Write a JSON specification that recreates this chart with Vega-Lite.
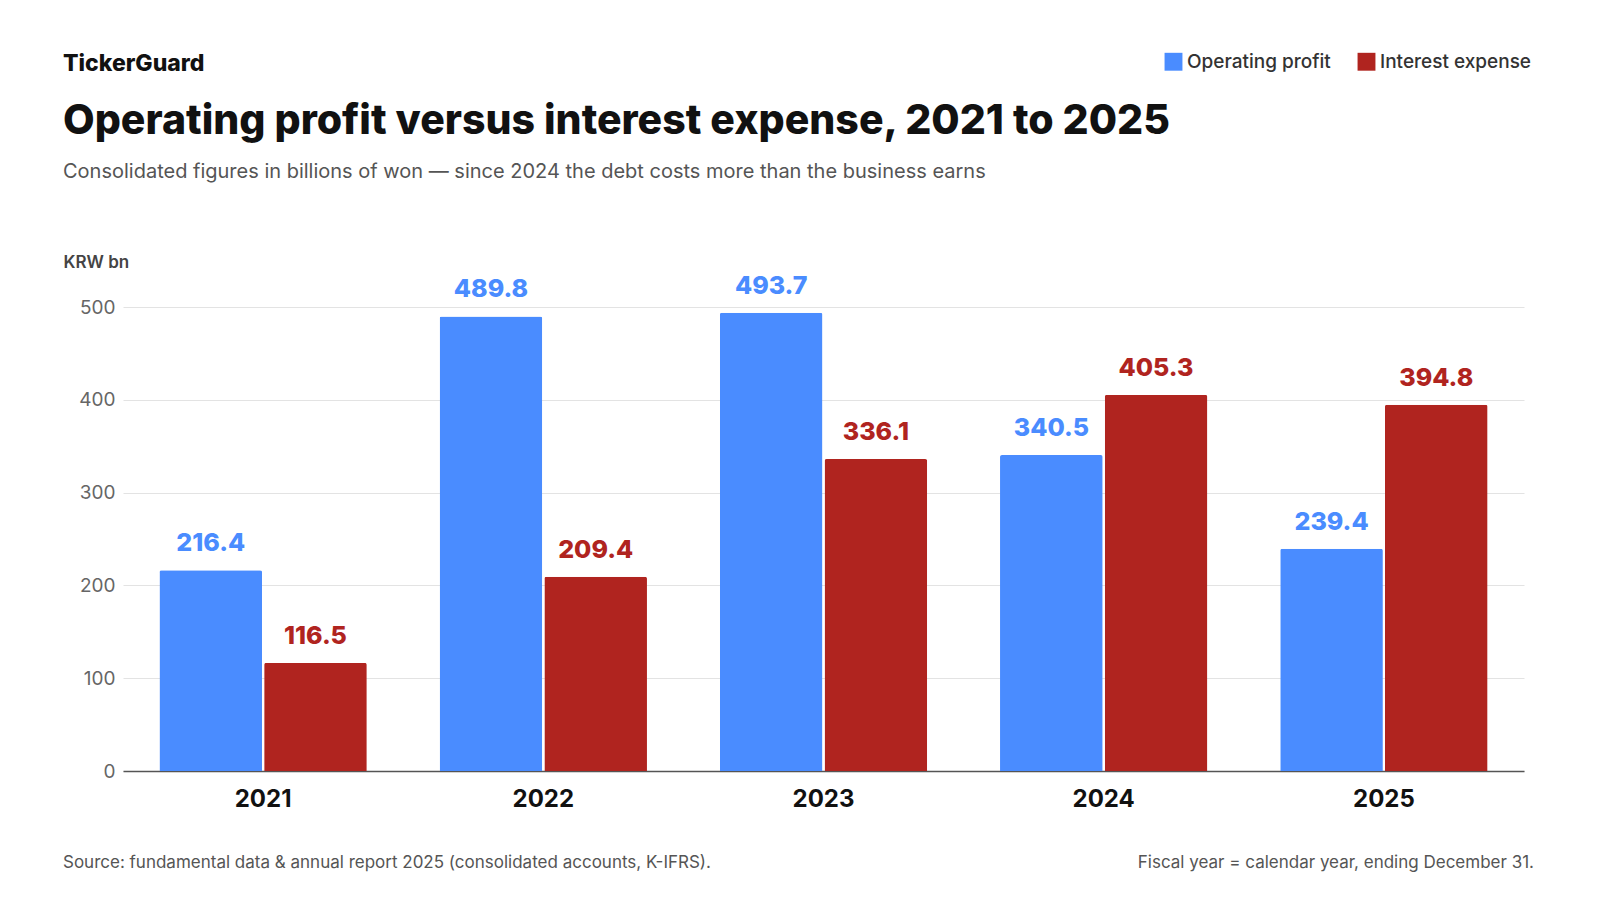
{
  "$schema": "https://vega.github.io/schema/vega-lite/v6.json",
  "background": "white",
  "padding": {"left": 63, "top": 52, "right": 60, "bottom": 20},
  "config": {"font": "Inter", "view": {"stroke": null}, "concat": {"spacing": 42}},
  "title": {"text": "TickerGuard", "anchor": "start", "frame": "bounds", "fontSize": 23, "fontWeight": 800, "color": "#111", "offset": -24},
  "datasets": {
    "bars": [
      {"year": "2021", "series": "Operating profit", "value": 216.4},
      {"year": "2021", "series": "Interest expense", "value": 116.5},
      {"year": "2022", "series": "Operating profit", "value": 489.8},
      {"year": "2022", "series": "Interest expense", "value": 209.4},
      {"year": "2023", "series": "Operating profit", "value": 493.7},
      {"year": "2023", "series": "Interest expense", "value": 336.1},
      {"year": "2024", "series": "Operating profit", "value": 340.5},
      {"year": "2024", "series": "Interest expense", "value": 405.3},
      {"year": "2025", "series": "Operating profit", "value": 239.4},
      {"year": "2025", "series": "Interest expense", "value": 394.8}
    ],
    "notes": [
      {"pos": 0, "text": "Source: fundamental data & annual report 2025 (consolidated accounts, K-IFRS)."},
      {"pos": 1, "text": "Fiscal year = calendar year, ending December 31."}
    ]
  },
  "vconcat": [
    {
      "width": 1401,
      "height": 464,
      "data": {"name": "bars"},
      "title": {
        "text": "Operating profit versus interest expense, 2021 to 2025",
        "subtitle": "Consolidated figures in billions of won — since 2024 the debt costs more than the business earns",
        "anchor": "start", "frame": "bounds",
        "fontSize": 41, "fontWeight": 800, "color": "#111",
        "subtitleFontSize": 20, "subtitleColor": "#555", "subtitlePadding": 19,
        "offset": 70
      },
      "encoding": {
        "x": {"field": "year", "type": "nominal", "title": null,
          "scale": {"paddingInner": 0.26, "paddingOuter": 0.13},
          "axis": {"labelAngle": 0, "labelFontSize": 24, "labelFontWeight": 700, "labelColor": "#111", "labelPadding": 16, "ticks": false, "domainColor": "#555", "domainWidth": 1.5}},
        "xOffset": {"field": "series", "type": "nominal", "sort": ["Operating profit", "Interest expense"], "scale": {"paddingInner": 0.02}},
        "y": {"field": "value", "type": "quantitative", "title": "KRW bn",
          "scale": {"domain": [0, 500]},
          "axis": {"values": [0, 100, 200, 300, 400, 500], "labelFontSize": 19, "labelColor": "#666", "labelPadding": 8, "ticks": false, "domain": false, "gridColor": "#e3e3e3",
            "titleAngle": 0, "titleAlign": "left", "titleBaseline": "bottom", "titleX": -60, "titleY": -36, "titleFontSize": 17, "titleFontWeight": 600, "titleColor": "#444"}},
        "color": {"field": "series", "type": "nominal",
          "scale": {"domain": ["Operating profit", "Interest expense"], "range": ["#4a8cff", "#b0241f"]},
          "legend": {"orient": "none", "legendX": 1041, "legendY": -255, "direction": "horizontal", "title": null, "symbolType": "square", "symbolSize": 320, "labelFontSize": 19, "labelFontWeight": 500, "labelColor": "#333", "columnPadding": 26, "symbolStrokeWidth": 0}}
      },
      "layer": [
        {"mark": {"type": "bar", "cornerRadiusTopLeft": 2, "cornerRadiusTopRight": 2}},
        {"mark": {"type": "text", "dy": -14, "fontSize": 25, "fontWeight": 800, "baseline": "bottom"},
          "encoding": {"text": {"field": "value", "type": "quantitative", "format": ".1f"}}}
      ]
    },
    {
      "width": 1401,
      "height": 20,
      "data": {"name": "notes"},
      "encoding": {
        "x": {"field": "pos", "type": "quantitative", "axis": null, "scale": {"domain": [0, 1], "range": [0, 1401]}},
        "text": {"field": "text"}
      },
      "layer": [
        {"transform": [{"filter": "datum.pos === 0"}],
          "mark": {"type": "text", "fontSize": 17, "color": "#555", "baseline": "middle", "align": "left", "dx": -60}},
        {"transform": [{"filter": "datum.pos === 1"}],
          "mark": {"type": "text", "fontSize": 17, "color": "#555", "baseline": "middle", "align": "right", "dx": 10}}
      ]
    }
  ]
}
